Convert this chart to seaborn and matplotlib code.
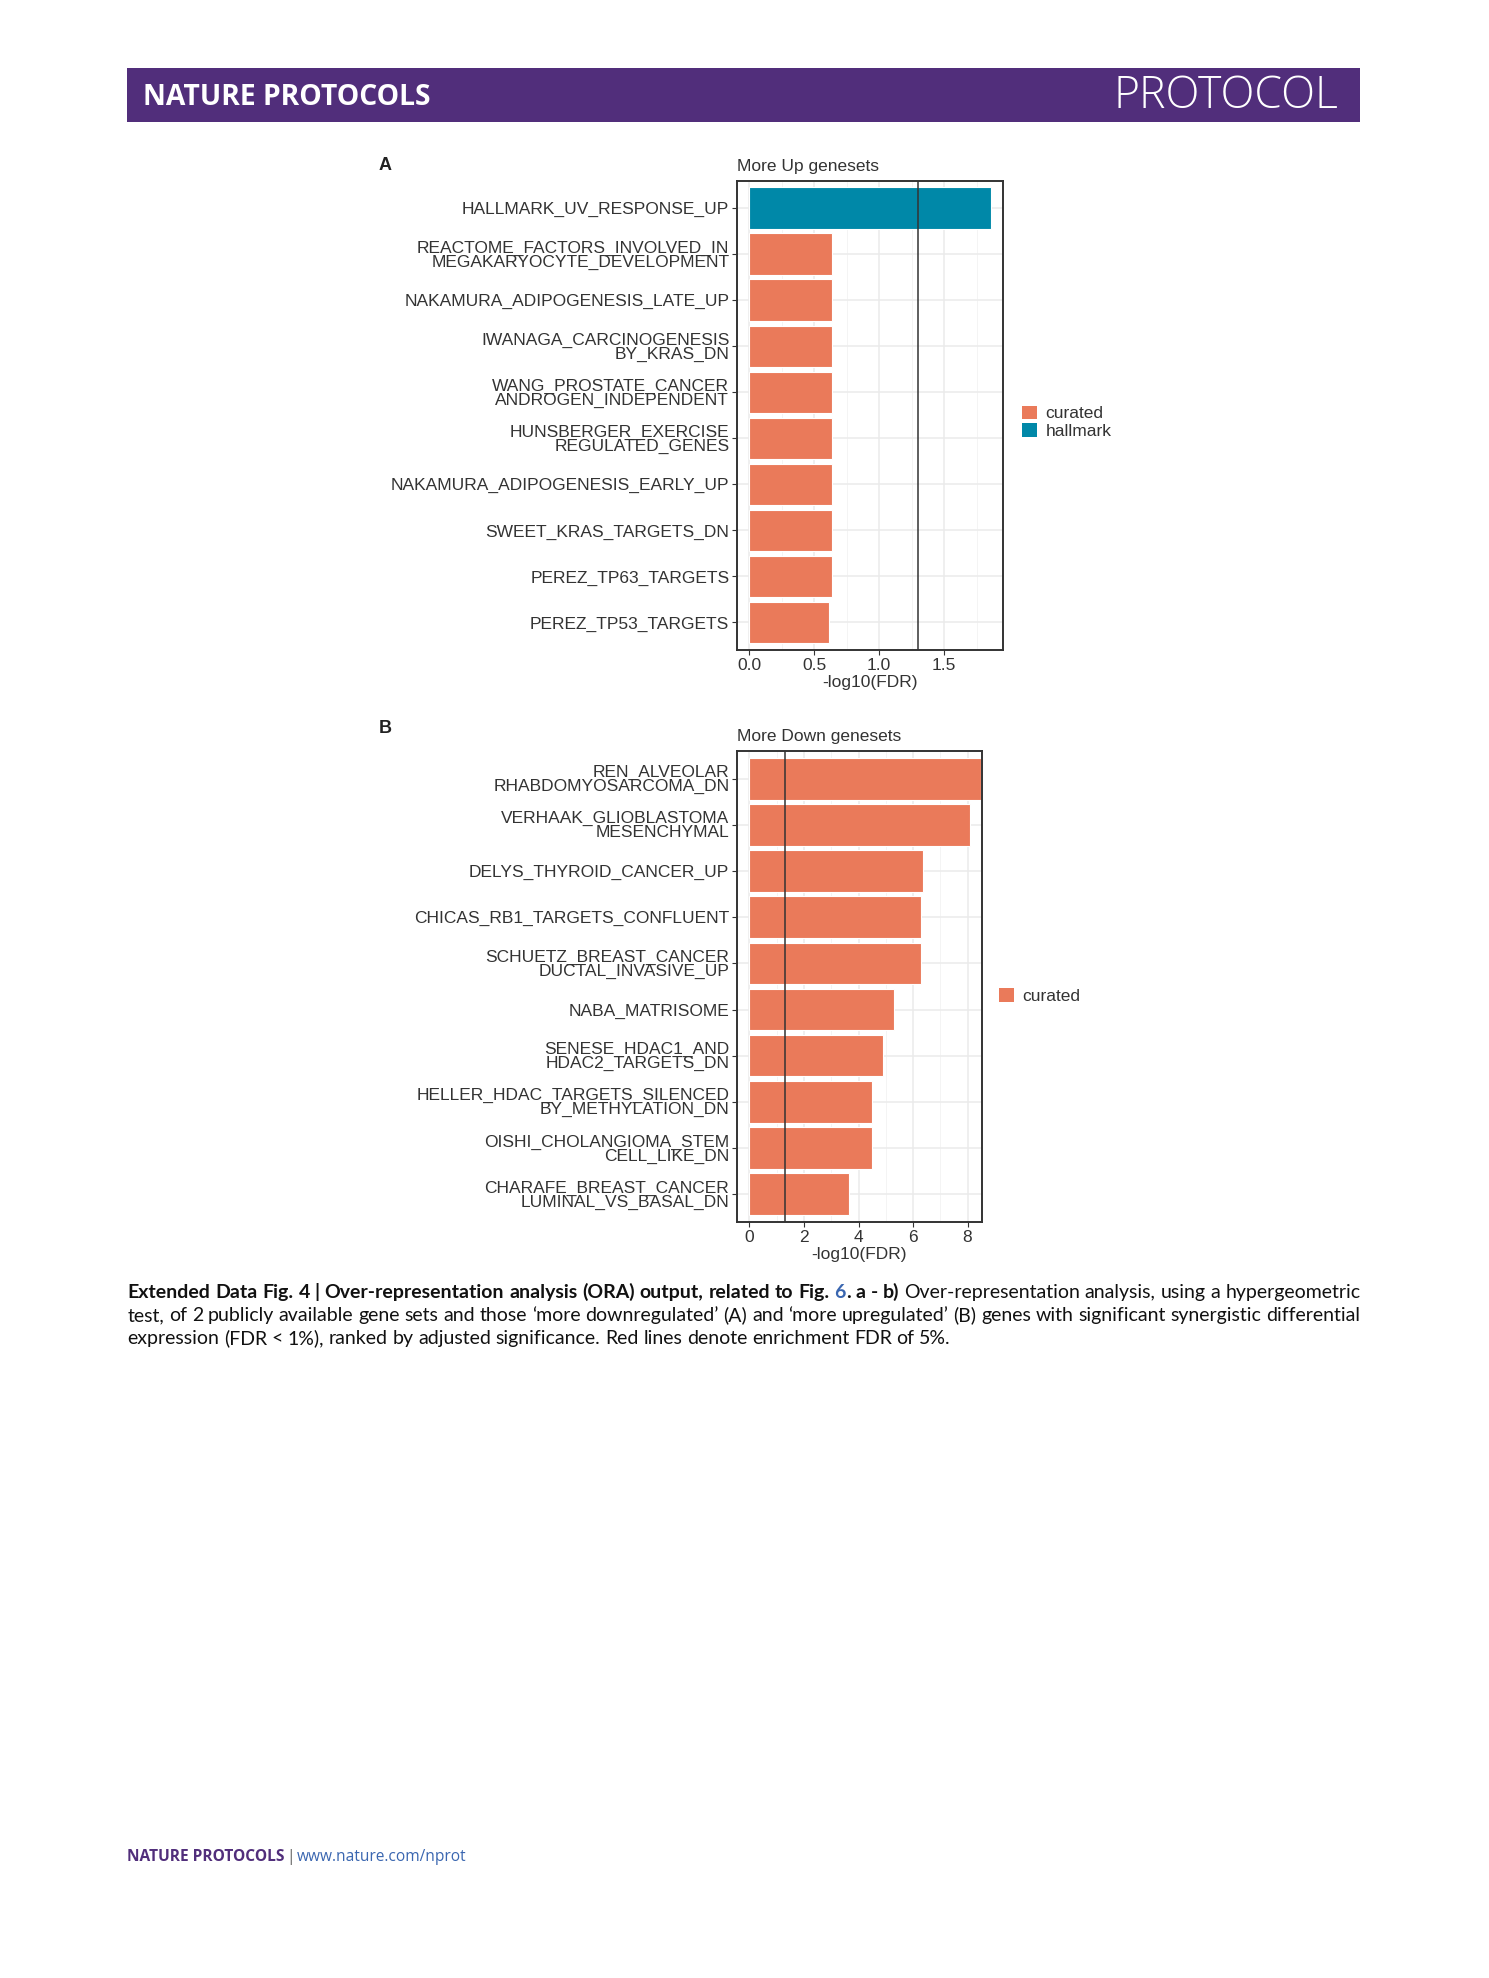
import numpy as np
import pandas as pd
import matplotlib
matplotlib.use("Agg")
import matplotlib.pyplot as plt
import seaborn as sns
from matplotlib.patches import Patch, Rectangle

# data
up_terms = [
    "HALLMARK_UV_RESPONSE_UP",
    "REACTOME_FACTORS_INVOLVED_IN\nMEGAKARYOCYTE_DEVELOPMENT",
    "NAKAMURA_ADIPOGENESIS_LATE_UP",
    "IWANAGA_CARCINOGENESIS\nBY_KRAS_DN",
    "WANG_PROSTATE_CANCER\nANDROGEN_INDEPENDENT",
    "HUNSBERGER_EXERCISE\nREGULATED_GENES",
    "NAKAMURA_ADIPOGENESIS_EARLY_UP",
    "SWEET_KRAS_TARGETS_DN",
    "PEREZ_TP63_TARGETS",
    "PEREZ_TP53_TARGETS",
]
up_score = [1.86, 0.64, 0.64, 0.64, 0.64, 0.64, 0.64, 0.64, 0.64, 0.615]
up_collection = ["hallmark"] + ["curated"] * 9

down_terms = [
    "REN_ALVEOLAR\nRHABDOMYOSARCOMA_DN",
    "VERHAAK_GLIOBLASTOMA\nMESENCHYMAL",
    "DELYS_THYROID_CANCER_UP",
    "CHICAS_RB1_TARGETS_CONFLUENT",
    "SCHUETZ_BREAST_CANCER\nDUCTAL_INVASIVE_UP",
    "NABA_MATRISOME",
    "SENESE_HDAC1_AND\nHDAC2_TARGETS_DN",
    "HELLER_HDAC_TARGETS_SILENCED\nBY_METHYLATION_DN",
    "OISHI_CHOLANGIOMA_STEM\nCELL_LIKE_DN",
    "CHARAFE_BREAST_CANCER\nLUMINAL_VS_BASAL_DN",
]
down_score = [8.5, 8.1, 6.37, 6.29, 6.29, 5.31, 4.9, 4.5, 4.5, 3.66]
down_collection = ["curated"] * 10

up_ticks = [0.0, 0.5, 1.0, 1.5]
up_ticklabels = ["0.0", "0.5", "1.0", "1.5"]
down_ticks = [0, 2, 4, 6, 8]
down_ticklabels = ["0", "2", "4", "6", "8"]

fdr_cut = 0.05
colors = {"curated": "#EA7A5A", "hallmark": "#0088A8"}
purple = "#512E7B"
dark = "#333333"

sns.set_theme(style="white")
plt.rcParams["font.family"] = ["Liberation Sans", "DejaVu Sans"]

fig = plt.figure(figsize=(14.89, 19.78), dpi=100)

W_D, H_D = 1180.0, 1567.0  # reference layout units


def fx(x):
    return x / W_D


def fy(y):
    return 1 - y / H_D


def panel(box, terms, score, coll, title, xlim, ticks, ticklabels, legend_y):
    x0, y0, x1, y1 = box
    ax = fig.add_axes([fx(x0), fy(y1), fx(x1) - fx(x0), fy(y0) - fy(y1)])
    df = pd.DataFrame({"term": terms, "score": score, "collection": coll})
    hue_order = [c for c in ["curated", "hallmark"] if c in coll]
    sns.barplot(data=df, x="score", y="term", hue="collection", order=terms,
                hue_order=hue_order, palette=colors, dodge=False, width=0.9,
                saturation=1, edgecolor="white", linewidth=0.8, legend=False,
                ax=ax, zorder=2)
    ax.axvline(-np.log10(fdr_cut), color=dark, lw=1.1, zorder=3)

    ax.set_xticks(ticks)
    ax.set_xticklabels(ticklabels)
    step = ticks[1] - ticks[0]
    minor = [t + step / 2 for t in [ticks[0] - step] + list(ticks)]
    minor = [m for m in minor if xlim[0] < m < xlim[1]]
    ax.set_xticks(minor, minor=True)
    ax.set_xlim(*xlim)
    ax.set_ylim(len(terms) - 1 + 0.6, -0.6)
    ax.grid(which="major", color="#EBEBEB", lw=1.1, zorder=0)
    ax.grid(which="minor", axis="x", color="#F4F4F4", lw=0.7, zorder=0)
    ax.set_axisbelow(True)

    ax.tick_params(axis="both", which="major", labelsize=12.5, labelcolor=dark,
                   length=3.5, width=0.8, color=dark, pad=2, bottom=True, left=True)
    ax.tick_params(axis="x", which="minor", length=0)
    for t in ax.get_yticklabels():
        t.set_linespacing(0.9)
    for s in ax.spines.values():
        s.set_color(dark)
        s.set_linewidth(1.4)

    ax.set_ylabel("")
    ax.set_xlabel("-log10(FDR)", fontsize=12.5, color=dark, labelpad=2)
    ax.set_title(title, loc="left", fontsize=12.5, color=dark, pad=7)

    handles = [Patch(facecolor=colors[c], edgecolor="none", label=c) for c in hue_order]
    ax.legend(handles=handles, loc="center left", bbox_to_anchor=(1.07, legend_y),
              frameon=False, fontsize=12.5, handlelength=0.85, handleheight=0.85,
              handletextpad=0.5, labelspacing=0.1, borderpad=0, borderaxespad=0,
              labelcolor=dark)
    return ax


panel((584, 143, 795, 515), up_terms, up_score, up_collection, "More Up genesets",
      (-0.05 * max(up_score), 1.05 * max(up_score)), up_ticks, up_ticklabels, 0.485)
panel((584, 595, 778, 968), down_terms, down_score, down_collection, "More Down genesets",
      (-0.46, 8.52), down_ticks, down_ticklabels, 0.48)

fig.text(fx(300), fy(131), "A", fontsize=13, fontweight="bold", color="#222222", va="center")
fig.text(fx(300), fy(577), "B", fontsize=13, fontweight="bold", color="#222222", va="center")

# header band
fig.patches.append(Rectangle((fx(101), fy(97)), fx(1078) - fx(101), fy(54) - fy(97),
                             transform=fig.transFigure, facecolor=purple, edgecolor="none"))
fig.text(fx(113), fy(77), "NATURE PROTOCOLS", fontsize=20.3, fontweight="bold", color="white",
         va="center", family=["Open Sans", "DejaVu Sans"])
fig.text(fx(1061), fy(77), "PROTOCOL", fontsize=32, fontweight="light", color="white",
         va="center", ha="right", family=["Open Sans", "DejaVu Sans"])

# caption, justified word by word
cap_font = ["Lato", "DejaVu Sans"]
cap_size = 14
blue = "#3A66B0"
ink = "#111111"
bold_part = "Extended Data Fig. 4 | Over-representation analysis (ORA) output, related to Fig.".split()
line1 = [[(w, "bold", ink)] for w in bold_part]
line1 += [[("6", "bold", blue), (".", "bold", ink)], [("a", "bold", ink)], [("-", "bold", ink)],
          [("b)", "bold", ink)]]
line1 += [[(w, "normal", ink)] for w in "Over-representation analysis, using a hypergeometric".split()]
line2 = [[(w, "normal", ink)] for w in
         "test, of 2 publicly available gene sets and those \u2018more downregulated\u2019 (A) and \u2018more upregulated\u2019 (B) genes with significant synergistic differential".split()]
line3 = [[(w, "normal", ink)] for w in
         "expression (FDR < 1%), ranked by adjusted significance. Red lines denote enrichment FDR of 5%.".split()]

renderer = fig.canvas.get_renderer()
fig_w = fig.bbox.width


def draw_line(words, ybase, x0, x1, justify):
    items = []
    for word in words:
        pieces = []
        for txt, wt, col in word:
            t = fig.text(0, fy(ybase), txt, fontsize=cap_size, fontweight=wt, color=col,
                         family=cap_font, va="baseline")
            pieces.append((t, t.get_window_extent(renderer).width))
        items.append(pieces)
    total = sum(w for p in items for _, w in p)
    space = 0.24 * cap_size * fig.dpi / 72
    if justify:
        gap = ((fx(x1) - fx(x0)) * fig_w - total) / (len(items) - 1)
    else:
        gap = space
    x = fx(x0) * fig_w
    for pieces in items:
        for t, w in pieces:
            t.set_x(x / fig_w)
            x += w
        x += gap


draw_line(line1, 1028, 101, 1078, True)
draw_line(line2, 1046.5, 101, 1078, True)
draw_line(line3, 1065, 101, 1078, False)

# footer
fsize = 11.2
ft = fig.text(fx(101), fy(1471), "NATURE PROTOCOLS", fontsize=fsize, fontweight="bold", color=purple,
              va="center", family=["Open Sans", "DejaVu Sans"])
bb = ft.get_window_extent(renderer)
ft2 = fig.text(bb.x1 / fig_w + 0.001, fy(1471), "|", fontsize=fsize, color="#555555", va="center",
               family=["Open Sans", "DejaVu Sans"])
bb2 = ft2.get_window_extent(renderer)
fig.text(bb2.x1 / fig_w + 0.001, fy(1471), "www.nature.com/nprot", fontsize=fsize, color=blue,
         va="center", family=["Open Sans", "DejaVu Sans"])

fig.savefig("out.png", dpi=100, facecolor="white")
